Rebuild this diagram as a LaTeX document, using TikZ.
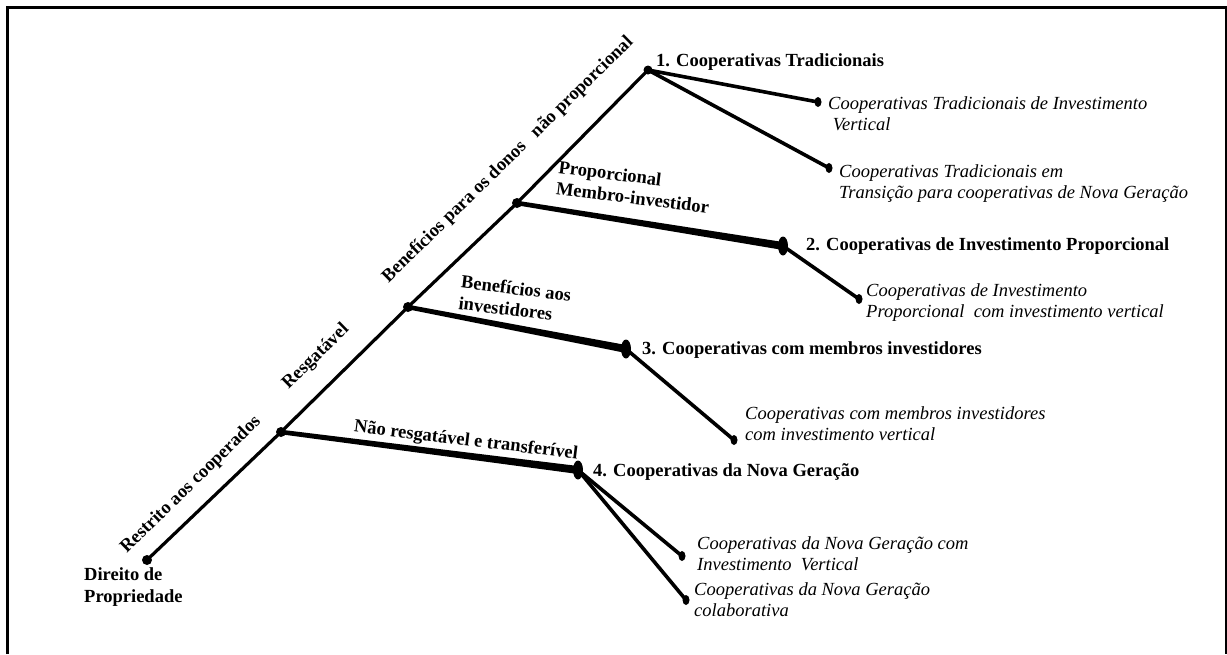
\documentclass[tikz,border=0pt]{standalone}
\usepackage{fontspec}
\setmainfont{Liberation Serif}
\usetikzlibrary{shapes.geometric,calc}
\begin{document}
\begin{tikzpicture}[x=1pt,y=-1pt,
  dot/.style={circle,fill=black,inner sep=0pt,minimum size=10pt},
  bigdot/.style={ellipse,fill=black,inner sep=0pt,minimum width=10pt,minimum height=19pt},
  enddot/.style={ellipse,fill=black,inner sep=0pt,minimum width=7pt,minimum height=10pt},
  trunk/.style={line width=3.2pt},
  twig/.style={line width=3.6pt},
  typelbl/.style={anchor=west,font=\fontsize{18.5}{21}\selectfont\bfseries,inner sep=0pt},
  sublbl/.style={anchor=north west,align=left,font=\fontsize{18.5}{21.5}\selectfont\itshape,inner sep=0pt},
  pathlbl/.style={font=\fontsize{18.5}{21.5}\selectfont\bfseries,inner sep=0pt,align=left}]
\useasboundingbox (0,0) rectangle (1227,654);
% frame (open at the bottom)
\draw[line width=3pt] (7,654) -- (7,7) -- (1227,7);
\draw[line width=2pt] (1225.5,7) -- (1225.5,654);

% junctions on the trunk
\node[dot] (root) at (147,560) {};
\node[dot] (jA) at (281,432) {};
\node[dot] (jB) at (408,307) {};
\node[dot] (jC) at (517,203) {};
\node[dot,minimum size=9pt] (top) at (648,70) {};

% cooperative types
\node[bigdot] (t2) at (783,246) {};
\node[bigdot] (t3) at (626,349) {};
\node[bigdot] (t4) at (578,470) {};

% sub-types
\node[enddot] (s1a) at (818,102) {};
\node[enddot] (s1b) at (829,168) {};
\node[enddot] (s2) at (859,299) {};
\node[enddot] (s3) at (734,440) {};
\node[enddot] (s4a) at (682,556) {};
\node[enddot] (s4b) at (686,600) {};

% trunk
\draw[trunk] (root.center) -- (jA.center) -- (jB.center) -- (jC.center) -- (top.center);
% tapered branches, widening towards each type
\foreach \a/\b in {jA/t4, jB/t3, jC/t2}
  \fill ($(\a.center)+(0,-2.3)$) -- ($(\b.center)+(0,-4)$) -- ($(\b.center)+(0,4)$) -- ($(\a.center)+(0,2.3)$) -- cycle;
% twigs
\draw[twig] (top.center) -- (s1a.center);
\draw[twig] (top.center) -- (s1b.center);
\draw[twig] (t2.center) -- (s2.center);
\draw[twig] (t3.center) -- (s3.center);
\draw[twig] (t4.center) -- (s4a.center);
\draw[twig] (t4.center) -- (s4b.center);

% root label
\node[anchor=north west,align=left,font=\fontsize{18.5}{22}\selectfont\bfseries,inner sep=0pt] (rootlbl) at (84,567) {Direito de\\Propriedade};

% labels along the trunk
\node[pathlbl,rotate=44.4] (l1) at (191,485) {Restrito aos cooperados};
\node[pathlbl,rotate=44.4] (l2) at (316,357) {Resgatável};
\node[pathlbl,rotate=44.4] (l3) at (508,160) {Benefícios para os donos\hspace{0.75em}não proporcional};

% labels along the branches
\node[pathlbl,rotate=-7] (l4) at (466,441) {Não resgatável e transferível};
\node[pathlbl,rotate=-7] (l5) at (515,299) {Benefícios aos\\investidores};
\node[pathlbl,rotate=-7] (l6) at (634,187) {Proporcional\\Membro-investidor};

% type labels
\node[typelbl] (n1) at (656,62) {1. Cooperativas Tradicionais};
\node[typelbl] (n2) at (806,246) {2. Cooperativas de Investimento Proporcional};
\node[typelbl] (n3) at (642,350) {3. Cooperativas com membros investidores};
\node[typelbl] (n4) at (593,472) {4. Cooperativas da Nova Geração};

% sub-type labels
\node[sublbl] (d1a) at (828,96) {Cooperativas Tradicionais de Investimento\\\ Vertical};
\node[sublbl] (d1b) at (839,164) {Cooperativas Tradicionais em\\Transição para cooperativas de Nova Geração};
\node[sublbl] (d2) at (866,283) {Cooperativas de Investimento\\Proporcional\ \ com investimento vertical};
\node[sublbl] (d3) at (745,406) {Cooperativas com membros investidores\\com investimento vertical};
\node[sublbl] (d4a) at (697,536) {Cooperativas da Nova Geração com\\Investimento\ \ Vertical};
\node[sublbl] (d4b) at (694,582) {Cooperativas da Nova Geração\\colaborativa};
\end{tikzpicture}
\end{document}
